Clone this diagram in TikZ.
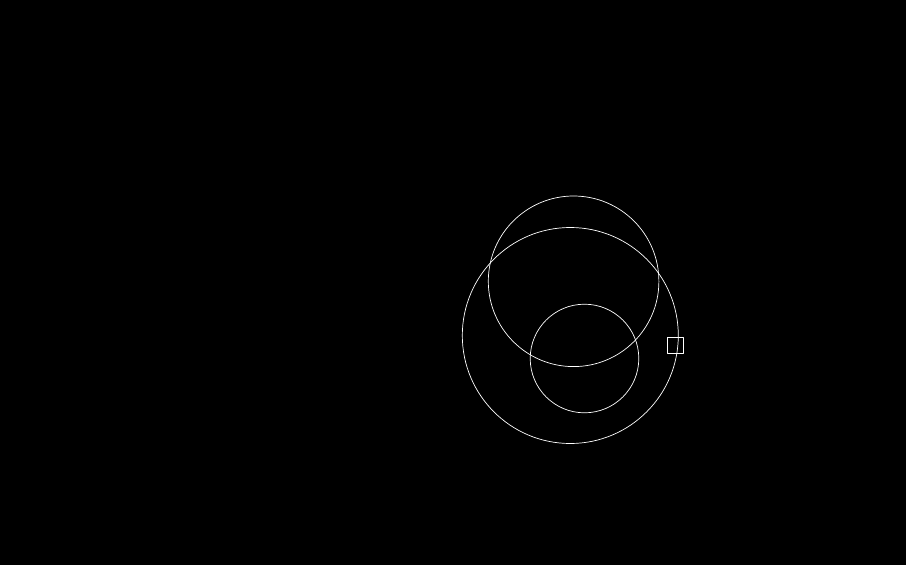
\documentclass[tikz,border=0pt]{standalone}
\begin{document}
\begin{tikzpicture}[x=1pt,y=-1pt, line join=round, line cap=round]
\tikzset{ring/.style={draw=white, line width=0.7pt}}
\fill[black] (0,0) rectangle (906,565);
\useasboundingbox (0,0) rectangle (906,565);
\coordinate (upper) at (573.6,281.3);
\coordinate (outer) at (570.3,335.5);
\coordinate (inner) at (584.5,358.5);
\draw[ring] (upper) circle (85.3pt);
\draw[ring] (outer) circle (108pt);
\draw[ring] (inner) circle (54.3pt);
\draw[ring] (667.3,337.3) rectangle (683.7,353.7);
\end{tikzpicture}
\end{document}
